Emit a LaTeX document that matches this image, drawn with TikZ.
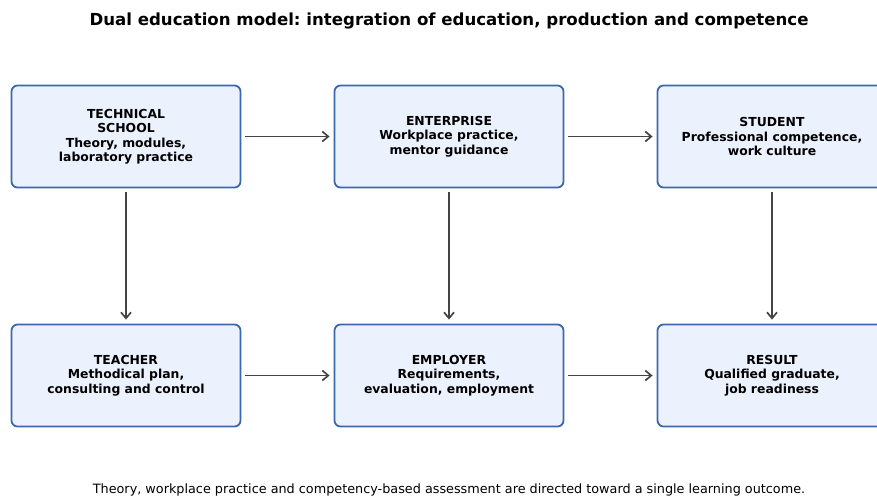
\documentclass[tikz,border=0pt]{standalone}
\usepackage{fontspec}
\setmainfont{DejaVu Sans}
\usetikzlibrary{arrows.meta}
\definecolor{boxfill}{HTML}{EBF2FE}
\definecolor{boxline}{HTML}{3D67AB}
\definecolor{arrowgray}{HTML}{444444}
\tikzset{
  stage/.style={draw=boxline, line width=1.8pt, fill=boxfill, rounded corners=6pt,
    minimum width=229pt, minimum height=102pt, inner sep=0pt,
    align=center, font=\fontsize{12.4}{14.5}\selectfont\bfseries},
  flow/.style={draw=arrowgray, line width=1.7pt, -{Straight Barb[length=6pt,width=10pt]},
    shorten >=4pt, shorten <=4pt}
}
\begin{document}
\frenchspacing
\begin{tikzpicture}[x=1pt,y=-1pt]
  \useasboundingbox (0,0) rectangle (877,496);
  \clip (0,0) rectangle (877,496);
  \node (title) at (449,21) {\fontsize{16.6}{18}\selectfont\bfseries Dual education model: integration of education, production and competence};

  \node[stage] (school) at (126,136.5) {TECHNICAL\\SCHOOL\\Theory, modules,\\laboratory practice};
  \node[stage] (enterprise) at (449,136.5) {ENTERPRISE\\Workplace practice,\\mentor guidance};
  \node[stage] (student) at (772,136.5) {STUDENT\\Professional competence,\\work culture};
  \node[stage] (teacher) at (126,375.5) {TEACHER\\Methodical plan,\\consulting and control};
  \node[stage] (employer) at (449,375.5) {EMPLOYER\\Requirements,\\evaluation, employment};
  \node[stage] (result) at (772,375.5) {RESULT\\Qualified graduate,\\job readiness};

  \draw[flow] (school) -- (enterprise);
  \draw[flow] (enterprise) -- (student);
  \draw[flow] (teacher) -- (employer);
  \draw[flow] (employer) -- (result);
  \draw[flow] (school) -- (teacher);
  \draw[flow] (enterprise) -- (employer);
  \draw[flow] (student) -- (result);

  \node (note) at (449,490) {\fontsize{12.8}{14}\selectfont Theory, workplace practice and competency-based assessment are directed toward a single learning outcome.};
\end{tikzpicture}
\end{document}
